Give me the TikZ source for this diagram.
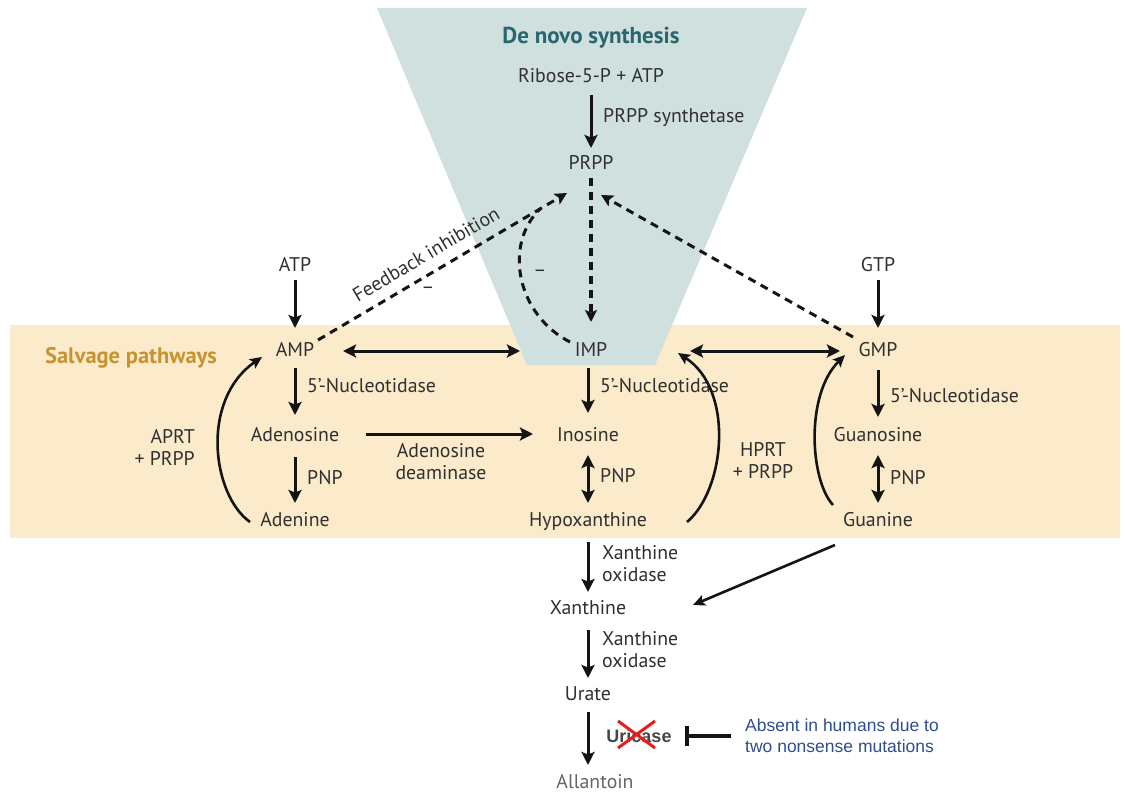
\documentclass[tikz,border=0pt]{standalone}
\usepackage{fontspec}
\setmainfont{PT Sans}
\newfontfamily\arialf{Liberation Sans}
\usetikzlibrary{arrows.meta,calc}
\definecolor{denovobg}{RGB}{207,224,223}
\definecolor{salvbg}{RGB}{251,235,203}
\definecolor{titleteal}{RGB}{42,102,112}
\definecolor{salvgold}{RGB}{201,146,48}
\definecolor{txtc}{RGB}{48,48,48}
\definecolor{notec}{RGB}{46,78,143}
\definecolor{xred}{RGB}{232,30,30}
\tikzset{
  mol/.style={font=\fontsize{19.8}{22}\selectfont, text=txtc, inner sep=3pt, text height=13.5pt, text depth=3.5pt},
  lbl/.style={font=\fontsize{19.8}{22}\selectfont, text=txtc, inner sep=0pt},
  arr/.style={line width=3pt, draw=black!92, -{Stealth[length=13pt,width=13pt,inset=2.5pt]}},
  dbl/.style={line width=3pt, draw=black!92, {Stealth[length=13pt,width=13pt,inset=2.5pt]}-{Stealth[length=13pt,width=13pt,inset=2.5pt]}},
  carr/.style={line width=2.6pt, draw=black!92, -{Stealth[length=12pt,width=11pt,inset=2.5pt]}},
  dsh/.style={line width=3pt, draw=black!92, dash pattern=on 8pt off 6pt},
  dsharr/.style={dsh, -{Stealth[length=12pt,width=12pt,inset=2.5pt]}},
  inhib/.style={line width=3.5pt, draw=black!92, -{Bar[width=20pt,line width=3.5pt]}}
}
\begin{document}
\begin{tikzpicture}[x=1pt,y=-1pt]
\useasboundingbox (0,0) rectangle (1128,792);
\fill[white] (0,0) rectangle (1128,792);
\fill[salvbg] (10,325) rectangle (1120,538);
\fill[denovobg] (377,8) -- (807,8) -- (655,365) -- (527,365) -- cycle;

% titles
\node[lbl, font=\fontsize{23}{26}\selectfont\bfseries, text=titleteal] (title) at (591,38) {De novo synthesis};
\node[lbl, font=\fontsize{22.5}{26}\selectfont\bfseries, text=salvgold] (salv) at (131,358) {Salvage pathways};

% molecules
\node[mol] (R5P) at (591,78) {Ribose-5-P + ATP};
\node[mol] (PRPP) at (591,164) {PRPP};
\node[mol] (ATP) at (295,266) {ATP};
\node[mol] (GTP) at (878,266) {GTP};
\node[mol] (AMP) at (295,351) {AMP};
\node[mol] (IMP) at (591,351) {IMP};
\node[mol] (GMP) at (878,351) {GMP};
\node[mol] (Ado) at (295,436) {Adenosine};
\node[mol] (Ino) at (588,436) {Inosine};
\node[mol] (Guo) at (878,436) {Guanosine};
\node[mol] (Ade) at (295,521) {Adenine};
\node[mol] (Hyp) at (588,521) {Hypoxanthine};
\node[mol] (Gua) at (878,521) {Guanine};
\node[mol] (Xan) at (588,609) {Xanthine};
\node[mol] (Ura) at (588,695) {Urate};
\node[mol, text=black!60] (All) at (595,783) {Allantoin};

% enzyme labels
\node[lbl, anchor=west] (prs) at (603,118) {PRPP synthetase};
\node[lbl, anchor=west] (nt1) at (307,386) {5’-Nucleotidase};
\node[lbl, anchor=west] (nt2) at (600,386) {5’-Nucleotidase};
\node[lbl, anchor=west] (nt3) at (890,396) {5’-Nucleotidase};
\node[lbl, anchor=west] (pnp1) at (307,478) {PNP};
\node[lbl, anchor=west] (pnp2) at (600,476) {PNP};
\node[lbl, anchor=west] (pnp3) at (890,478) {PNP};
\node[lbl, align=center] (ada) at (441,462) {Adenosine\\deaminase};
\node[lbl, align=right, anchor=east] (aprt) at (195,447) {APRT\\+ PRPP};
\node[lbl, align=center] (hprt) at (763,460) {HPRT\\+ PRPP};
\node[lbl, align=left, anchor=west] (xo1) at (602,564) {Xanthine\\oxidase};
\node[lbl, align=left, anchor=west] (xo2) at (602,650) {Xanthine\\oxidase};
\node[lbl, rotate=30.6] (fb) at (426,254) {Feedback inhibition};
\node[lbl] (m1) at (428,290) {–};
\node[lbl] (m2) at (540,273) {–};

% uricase and note
\node[lbl, font=\arialf\fontsize{18}{21}\selectfont\bfseries, text=black!72] (Uri) at (639,736) {Uricase};
\draw[xred, line width=3pt] ($(Uri)+(-21,-15)$) -- ($(Uri)+(16,12)$)
                            ($(Uri)+(-21,12)$) -- ($(Uri)+(16,-15)$);
\node[lbl, anchor=west, align=left, font=\arialf\fontsize{17.5}{21}\selectfont, text=notec] (note) at (745,736) {Absent in humans due to\\two nonsense mutations};
\draw[inhib] ($(note.west)+(-14,0)$) -- ($(Uri)+(46,0)$);

% solid arrows
\draw[arr] ($(R5P)+(0,17)$) -- ($(PRPP)+(0,-16)$);
\draw[arr] ($(ATP)+(0,14)$) -- ($(AMP)+(0,-23)$);
\draw[arr] ($(GTP)+(0,14)$) -- ($(GMP)+(0,-23)$);
\draw[arr] ($(AMP)+(0,17)$) -- ($(Ado)+(0,-21)$);
\draw[arr] ($(Ado)+(0,21)$) -- ($(Ade)+(0,-18)$);
\draw[arr] ($(IMP)+(-3,17)$) -- ($(Ino)+(0,-23)$);
\draw[arr] ($(GMP)+(0,19)$) -- ($(Guo)+(0,-19)$);
\draw[dbl] ($(Ino)+(0,19)$) -- ($(Hyp)+(0,-18)$);
\draw[dbl] ($(Guo)+(0,19)$) -- ($(Gua)+(0,-18)$);
\draw[dbl] ($(AMP)+(48,0)$) -- ($(IMP)+(-71,0)$);
\draw[dbl] ($(IMP)+(99,0)$) -- ($(GMP)+(-38,0)$);
\draw[arr] ($(Ado)+(71,-2)$) -- ($(Ino)+(-55,-2)$);
\draw[arr] ($(Hyp)+(0,21)$) -- ($(Xan)+(0,-17)$);
\draw[arr] ($(Xan)+(0,21)$) -- ($(Ura)+(0,-17)$);
\draw[arr] ($(Ura)+(0,17)$) -- ($(All)+(-7,-18)$);
\draw[line width=2.6pt, draw=black!92, -{Stealth[length=12pt,width=11pt,inset=2.5pt]}] ($(Gua)+(-43,24)$) -- ($(Xan)+(105,-4)$);

% salvage curves
\draw[carr] ($(Ade)+(-45,1)$) .. controls (212,495) and (200,400) .. ($(AMP)+(-33,6)$);
\draw[carr] ($(Hyp)+(99,1)$) .. controls (725,490) and (735,390) .. ($(IMP)+(87,2)$);
\draw[carr] ($(Gua)+(-45,-16)$) .. controls (810,480) and (805,395) .. ($(GMP)+(-33,4)$);

% feedback (dashed)
\coordinate (fbL) at (567,193);
\coordinate (fbR) at (601,195);
\coordinate (merge) at (540,209);
\draw[dsharr] ($(AMP)+(23,-11)$) -- (fbL);
\draw[dsharr] ($(GMP)+(-25,-14)$) -- (fbR);
\draw[dsharr, line width=3.5pt] ($(PRPP)+(0,14)$) -- ($(IMP)+(0,-29)$);
\draw[dsh] ($(IMP)+(-21,-9)$) .. controls (517,315) and (503,245) .. (merge);
\end{tikzpicture}
\end{document}
